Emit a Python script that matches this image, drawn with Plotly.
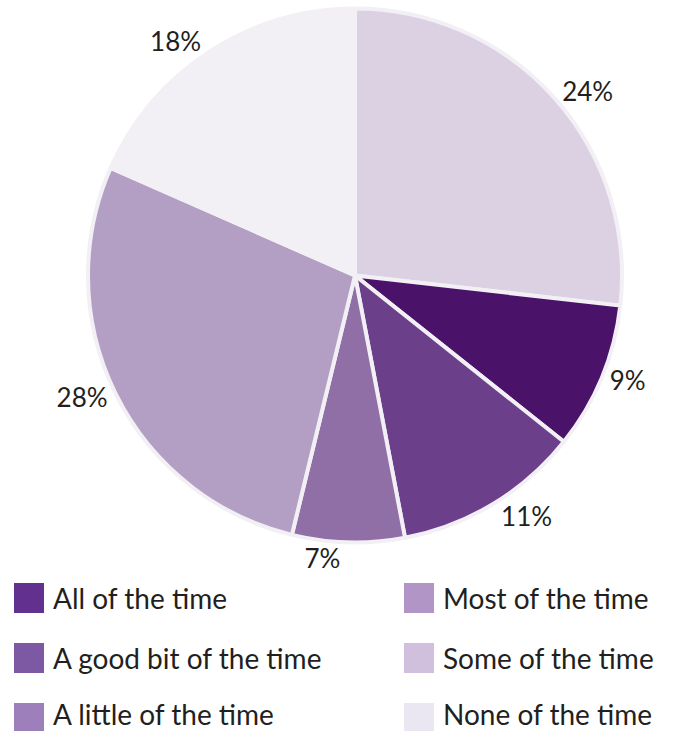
import plotly.graph_objects as go

# Slice order (clockwise from 12 o'clock)
slice_labels = ["Some of the time", "All of the time", "A good bit of the time",
                "A little of the time", "Most of the time", "None of the time"]
slice_values = [26.8, 8.9, 11.3, 6.8, 27.8, 18.4]
slice_text = ["24%", "9%", "11%", "7%", "28%", "18%"]
slice_colors = ["#dcd0e3", "#4a1268", "#6b3f8a", "#8f6fa6", "#b49fc4", "#f3f0f5"]

# Legend (column-major, as in the reference)
legend_labels = ["All of the time", "A good bit of the time", "A little of the time",
                 "Most of the time", "Some of the time", "None of the time"]
legend_colors = ["#62308f", "#7d59a3", "#9c7fbb", "#b095c6", "#d0c0de", "#ebe7f2"]

W, H = 673, 731
FONT = "Lato"
TEXT_COLOR = "#231f20"

fig = go.Figure()
fig.add_trace(go.Pie(
    labels=slice_labels,
    values=slice_values,
    text=slice_text,
    textinfo="text",
    textposition="outside",
    sort=False,
    direction="clockwise",
    rotation=0,
    marker=dict(colors=slice_colors, line=dict(color="#f2f0f5", width=4)),
    textfont=dict(family=FONT, size=26, color=TEXT_COLOR),
    domain=dict(x=[88 / W, 622 / W], y=[1 - 543 / H, 1 - 8 / H]),
    showlegend=False,
    hoverinfo="label+percent",
))

shapes = []
annotations = []
col_x = [14, 404]
row_y = [583, 643, 703]
text_dy = [15, 15, 11]  # last row nudged up to stay inside the page
for i, (lab, col) in enumerate(zip(legend_labels, legend_colors)):
    c, r = divmod(i, 3)
    x0 = col_x[c]
    y0 = row_y[r]
    shapes.append(dict(type="rect", xref="paper", yref="paper",
                       x0=x0 / W, x1=(x0 + 30) / W,
                       y0=1 - (y0 + 30) / H, y1=1 - y0 / H,
                       fillcolor=col, line=dict(width=0)))
    annotations.append(dict(xref="paper", yref="paper",
                            x=(x0 + 38) / W, y=1 - (y0 + text_dy[r]) / H,
                            xanchor="left", yanchor="middle",
                            text=lab, showarrow=False, borderpad=0,
                            font=dict(family=FONT, size=28, color=TEXT_COLOR)))

fig.update_layout(
    width=W, height=H,
    margin=dict(l=0, r=0, t=0, b=0),
    paper_bgcolor="white",
    plot_bgcolor="white",
    shapes=shapes,
    annotations=annotations,
    showlegend=False,
)

fig.write_html("out.html",
               config={"displayModeBar": False},
               post_script="document.body.style.margin='0';document.body.style.padding='0';")
